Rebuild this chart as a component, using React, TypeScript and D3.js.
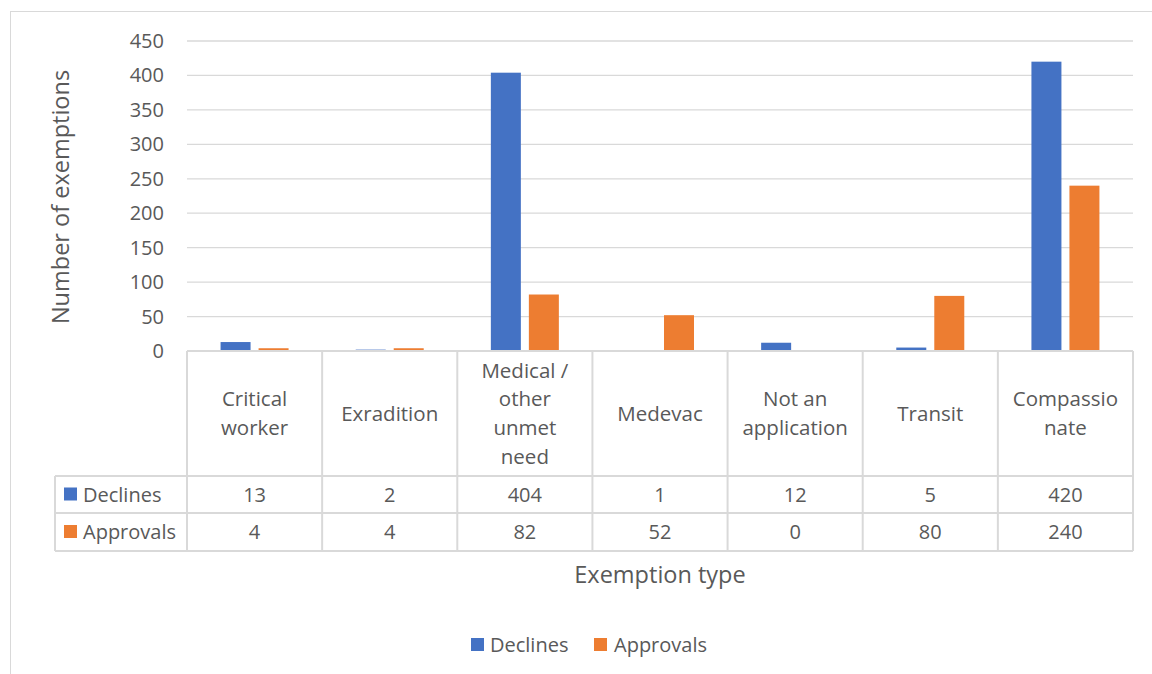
import React from "react";
import * as d3 from "d3";

const categories: string[][] = [
  ["Critical", "worker"],
  ["Exradition"],
  ["Medical /", "other", "unmet", "need"],
  ["Medevac"],
  ["Not an", "application"],
  ["Transit"],
  ["Compassio", "nate"],
];
const declines = [13, 2, 404, 1, 12, 5, 420];
const approvals = [4, 4, 82, 52, 0, 80, 240];
const yTicks = [0, 50, 100, 150, 200, 250, 300, 350, 400, 450];
const seriesNames = ["Declines", "Approvals"];
const seriesColors = ["#4472C4", "#ED7D31"];

const W = 1152;
const H = 674;
const FONT = "'Open Sans', sans-serif";
const TXT = "#595959";
const GRID = "#d9d9d9";

export default function App() {
  const left = 187;
  const right = 1133;
  const top = 41;
  const base = 351;
  const y = d3.scaleLinear().domain([0, 450]).range([base, top]);
  const x = d3
    .scaleBand<number>()
    .domain(d3.range(categories.length))
    .range([left, right])
    .paddingInner(0)
    .paddingOuter(0);
  const bw = x.bandwidth();
  const barW = 30;
  const gap = 8;
  const headerBottom = 476;
  const row1Bottom = 513;
  const row2Bottom = 551;
  const tableLeft = 55;
  const series = [declines, approvals];

  return (
    <svg
      width={W}
      height={H}
      style={{ position: "absolute", left: 0, top: 0 }}
      fontFamily={FONT}
    >
      <rect x={0} y={0} width={W} height={H} fill="#fff" />
      <rect x={10.5} y={11.5} width={W + 10} height={H + 10} fill="none" stroke={GRID} strokeWidth={1} />
      {yTicks.map((t) => (
        <line key={t} x1={left} x2={right} y1={y(t)} y2={y(t)} stroke={GRID} strokeWidth={1.3} />
      ))}
      {yTicks.map((t) => (
        <text key={"l" + t} x={164} y={y(t)} dy="0.35em" textAnchor="end" fontSize={20} fill={TXT}>
          {t}
        </text>
      ))}
      <text
        transform={`translate(61,${(top + base) / 2 + 1}) rotate(-90)`}
        textAnchor="middle"
        dy="0.35em"
        fontSize={23.5}
        fill={TXT}
      >
        Number of exemptions
      </text>
      {series.map((vals, si) =>
        vals.map((v, i) => {
          const cx = (x(i) as number) + bw / 2;
          const bx = si === 0 ? cx - gap / 2 - barW : cx + gap / 2;
          const h = base - y(v);
          return (
            <rect
              key={si + "-" + i}
              x={bx}
              y={y(v)}
              width={barW}
              height={Math.max(h, 0)}
              fill={seriesColors[si]}
            />
          );
        })
      )}
      <g stroke={GRID} strokeWidth={2} fill="none">
        <line x1={left} x2={right} y1={base} y2={base} />
        <line x1={tableLeft} x2={right} y1={headerBottom} y2={headerBottom} />
        <line x1={tableLeft} x2={right} y1={row1Bottom} y2={row1Bottom} />
        <line x1={tableLeft} x2={right} y1={row2Bottom} y2={row2Bottom} />
        <line x1={tableLeft} x2={tableLeft} y1={headerBottom} y2={row2Bottom} />
        {d3.range(categories.length + 1).map((i) => {
          const xx = i === categories.length ? right : (x(i) as number);
          return <line key={"v" + i} x1={xx} x2={xx} y1={base} y2={row2Bottom} />;
        })}
      </g>
      {categories.map((lines, i) => {
        const cx = (x(i) as number) + bw / 2;
        const lh = 28.7;
        const mid = (base + headerBottom) / 2;
        const start = mid - ((lines.length - 1) * lh) / 2;
        return (
          <text key={"c" + i} textAnchor="middle" fontSize={20.5} fill={TXT}>
            {lines.map((ln, k) => (
              <tspan key={k} x={cx} y={start + k * lh} dy="0.35em">
                {ln}
              </tspan>
            ))}
          </text>
        );
      })}
      {series.map((vals, si) => {
        const rowTop = si === 0 ? headerBottom : row1Bottom;
        const rowBot = si === 0 ? row1Bottom : row2Bottom;
        const cy = (rowTop + rowBot) / 2;
        return (
          <g key={"row" + si}>
            <rect x={64} y={cy - 7} width={13} height={13} fill={seriesColors[si]} />
            <text x={83} y={cy} dy="0.35em" fontSize={20} fill={TXT}>
              {seriesNames[si]}
            </text>
            {vals.map((v, i) => (
              <text
                key={i}
                x={(x(i) as number) + bw / 2}
                y={cy}
                dy="0.35em"
                textAnchor="middle"
                fontSize={20}
                fill={TXT}
              >
                {v}
              </text>
            ))}
          </g>
        );
      })}
      <text x={660} y={575} dy="0.35em" textAnchor="middle" fontSize={23.5} fill={TXT}>
        Exemption type
      </text>
      <rect x={471} y={638} width={13} height={13} fill={seriesColors[0]} />
      <text x={490} y={645} dy="0.35em" fontSize={20} fill={TXT}>
        Declines
      </text>
      <rect x={594} y={638} width={13} height={13} fill={seriesColors[1]} />
      <text x={614} y={645} dy="0.35em" fontSize={20} fill={TXT}>
        Approvals
      </text>
    </svg>
  );
}
